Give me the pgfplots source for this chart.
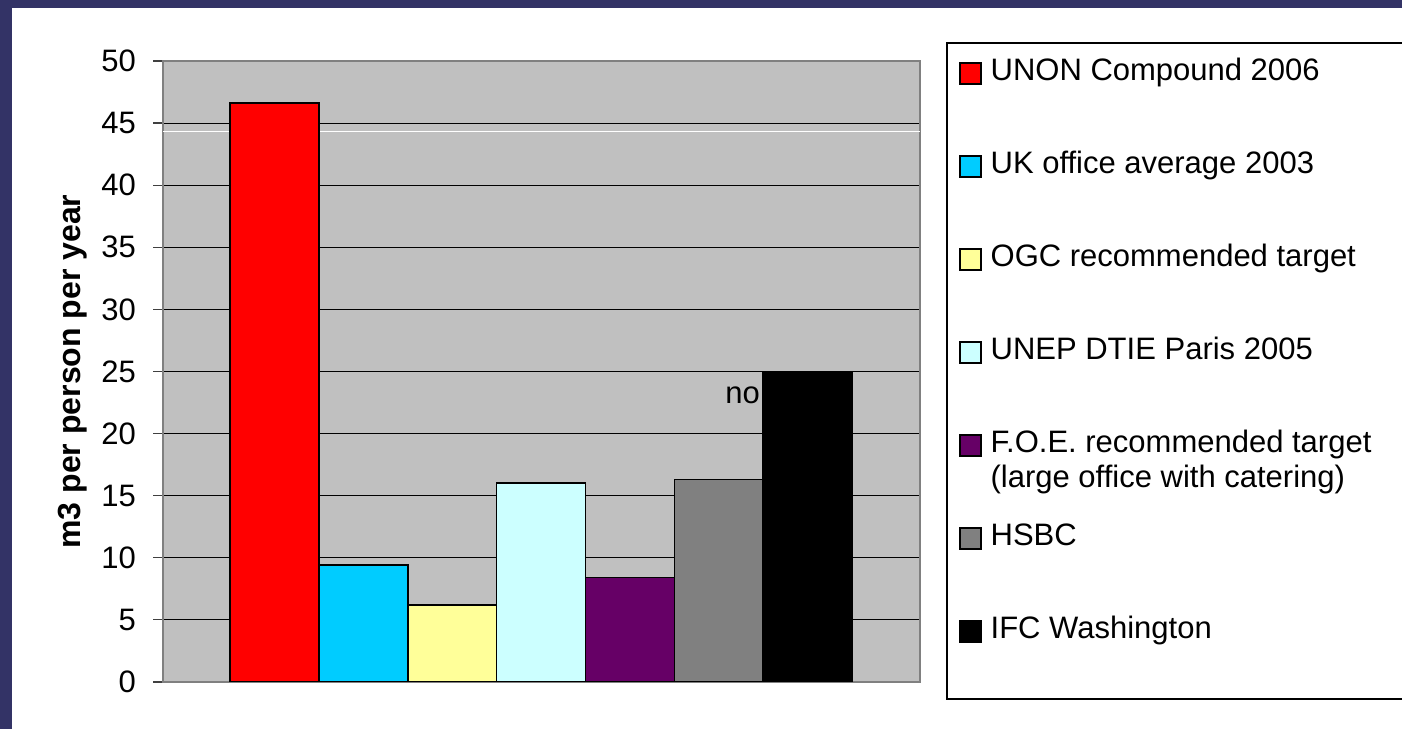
\documentclass[border=0pt]{standalone}
\usepackage{fontspec}
\setmainfont{Liberation Sans}
\usepackage{pgfplots}
\pgfplotsset{compat=1.18}
\definecolor{navy}{RGB}{51,51,102}
\definecolor{plotgray}{RGB}{192,192,192}
\definecolor{cUNON}{RGB}{255,0,0}
\definecolor{cUK}{RGB}{0,204,255}
\definecolor{cOGC}{RGB}{255,255,153}
\definecolor{cUNEP}{RGB}{204,255,255}
\definecolor{cFOE}{RGB}{102,0,102}
\definecolor{cHSBC}{RGB}{128,128,128}
\definecolor{cIFC}{RGB}{0,0,0}
\begin{document}
\begin{tikzpicture}
\begin{scope}[x=0.5bp,y=0.5bp]
\useasboundingbox (0,0) rectangle (1402,729);
\fill[white] (0,0) rectangle (1402,729);
\fill[navy] (0,721) rectangle (1402,729);
\fill[navy] (0,0) rectangle (12,729);
\draw[black, line width=0.6bp] (947,686) rectangle (1420,30);
\end{scope}
\begin{axis}[
  at={(81.5bp,23.5bp)}, anchor=south west, scale only axis,
  width=378.5bp, height=310.5bp,
  xmin=0, xmax=8.519, ymin=0, ymax=50,
  ytick={0,5,...,50}, xtick=\empty, ytick pos=left,
  ymajorgrids, grid style={black, line width=0.5bp},
  axis background/.style={fill=plotgray},
  axis line style={draw=gray, line width=1bp},
  tick align=outside, major tick length=5bp,
  ytick style={draw=black!75, line width=0.6bp},
  tick label style={font=\fontsize{15.5bp}{18bp}\selectfont},
  yticklabel style={xshift=-5bp},
  /pgf/number format/assume math mode=true,
  ylabel={m3 per person per year},
  ylabel style={font=\bfseries\fontsize{16bp}{19bp}\selectfont, at={(axis description cs:-0.12,0.5)}, anchor=center},
  legend cell align=left,
  legend style={at={(axis description cs:1.03567,1.04348)}, anchor=north west, draw=none, fill=none,
    inner sep=0pt, outer sep=0pt, row sep=0pt, column sep=0pt,
    font=\fontsize{15.5bp}{17.5bp}\selectfont,
    nodes={inner sep=0pt, text height=23.5bp, text depth=23bp},
    cells={anchor=base west}},
  legend image code/.code={\path (0bp,0bp) (21bp,0bp); \draw[#1, line width=0.8bp] (6bp,-1.5bp) rectangle (16.5bp,9bp);},
]
\addplot[white, line width=0.6bp, forget plot] coordinates {(0,44.3) (8.519,44.3)};
\addplot[ybar, bar width=1, bar shift=0pt, fill=cUNON, draw=black, line width=0.8bp] coordinates {(1.254,46.6)};
\addlegendentry{UNON Compound 2006}
\addplot[ybar, bar width=1, bar shift=0pt, fill=cUK, draw=black, line width=0.8bp] coordinates {(2.254,9.4)};
\addlegendentry{UK office average 2003}
\addplot[ybar, bar width=1, bar shift=0pt, fill=cOGC, draw=black, line width=0.8bp] coordinates {(3.254,6.2)};
\addlegendentry{OGC recommended target}
\addplot[ybar, bar width=1, bar shift=0pt, fill=cUNEP, draw=black, line width=0.8bp] coordinates {(4.254,16.0)};
\addlegendentry{UNEP DTIE Paris 2005}
\addplot[ybar, bar width=1, bar shift=0pt, fill=cFOE, draw=black, line width=0.8bp] coordinates {(5.254,8.4)};
\addlegendentry{\smash{\begin{tabular}[t]{@{}l@{}}F.O.E. recommended target\\(large office with catering)\end{tabular}}}
\addplot[ybar, bar width=1, bar shift=0pt, fill=cHSBC, draw=black, line width=0.8bp] coordinates {(6.254,16.3)};
\addlegendentry{HSBC}
\node[anchor=base west, inner sep=0pt, font=\fontsize{15.5bp}{18bp}\selectfont] at (axis cs:6.325,22.46) {no};
\addplot[ybar, bar width=1, bar shift=0pt, fill=cIFC, draw=black, line width=0.8bp] coordinates {(7.254,25.0)};
\addlegendentry{IFC Washington}
\end{axis}
\end{tikzpicture}
\end{document}
